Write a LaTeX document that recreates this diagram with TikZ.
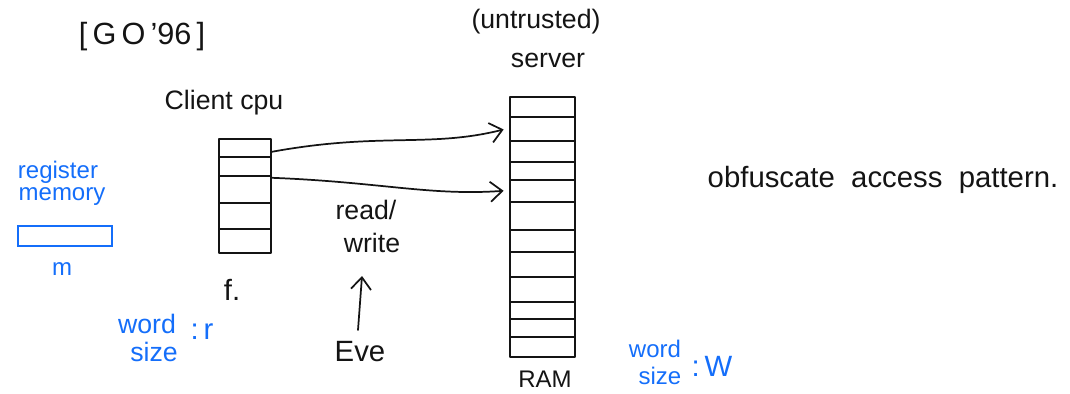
\documentclass[tikz,border=0pt]{standalone}
\usepackage{fontspec}
\setmainfont{Liberation Sans}
\usetikzlibrary{arrows.meta}
\definecolor{pen}{RGB}{20,20,20}
\definecolor{bluepen}{RGB}{20,110,250}
\tikzset{
  txt/.style={inner sep=0pt, text=pen, font=\fontsize{20}{22}\selectfont},
  btxt/.style={inner sep=0pt, text=bluepen, font=\fontsize{18}{20}\selectfont},
  stroke/.style={draw=pen, line width=1.3pt, line cap=round, line join=round},
  cell/.style={stroke},
  conn/.style={stroke, -{Straight Barb[length=9pt,width=15pt,line width=1.3pt]}},
  stackbox/.style={stroke, rectangle, inner sep=0pt}
}
\begin{document}
\begin{tikzpicture}[x=0.75pt,y=-0.75pt]
\useasboundingbox (0,0) rectangle (1070,393);
% titles
\node[txt, font=\fontsize{23}{26}\selectfont] (ref) at (142,37) {[\,G\,O\,'96\,]};
\node[txt] (untr) at (536,22) {(untrusted)};
\node[txt] (server) at (548,60) {server};
\node[txt] (client) at (224,103) {Client cpu};
% client registers
\node[stackbox, minimum width=39pt, minimum height=86pt] (cpu) at (245,196) {};
\foreach \y in {157,176,203,229} {\draw[cell] (219,\y) -- (271,\y);}
\node[txt, font=\fontsize{22}{24}\selectfont] (f) at (232,290) {f.};
% RAM
\node[stackbox, minimum width=49pt, minimum height=195pt] (ram) at (542.5,227) {};
\foreach \y in {117,141,162,180,202,230,252,277,302,319,337} {\draw[cell] (510,\y) -- (575,\y);}
\node[txt, font=\fontsize{18}{20}\selectfont] (ramlbl) at (545,379) {RAM};
% connectors
\coordinate (c1) at ([yshift=-10.5pt]cpu.north east);
\coordinate (c2) at ([yshift=-30pt]cpu.north east);
\coordinate (r1) at ([xshift=-4pt,yshift=-25pt]ram.north west);
\coordinate (r2) at ([xshift=-4pt,yshift=-71pt]ram.north west);
\draw[conn] (c1) .. controls (380,132) and (430,148) .. (r1);
\draw[conn] (c2) .. controls (380,182) and (430,196) .. (r2);
\node[txt] (read) at (366,210) {read/};
\node[txt] (write) at (372,243) {write};
\node[txt, font=\fontsize{22}{24}\selectfont] (eve) at (360,352) {Eve};
\coordinate (e0) at (358,330);
\coordinate (e1) at (362,276);
\draw[conn] (e0) -- (e1);
% obfuscate
\node[txt, font=\fontsize{22}{24}\selectfont] (obf) at (883,180) {obfuscate\ \ access\ \ pattern.};
% blue annotations
\node[btxt] (reg) at (58,172) {register};
\node[btxt] (mem) at (62,197) {memory};
\node[draw=bluepen, line width=1.3pt, minimum width=71pt, minimum height=15pt, inner sep=0pt] (regbox) at (65,236) {};
\node[btxt] (m) at (62,269) {m};
\node[btxt, font=\fontsize{20}{22}\selectfont] (w1) at (147,324) {word};
\node[btxt, font=\fontsize{20}{22}\selectfont] (s1) at (154,352) {size};
\node[btxt, font=\fontsize{22}{24}\selectfont] (r) at (202,332) {:\,r};
\node[btxt] (w2) at (655,349) {word};
\node[btxt] (s2) at (660,376) {size};
\node[btxt, font=\fontsize{22}{24}\selectfont] (W) at (712,366) {:\,W};
\end{tikzpicture}
\end{document}
